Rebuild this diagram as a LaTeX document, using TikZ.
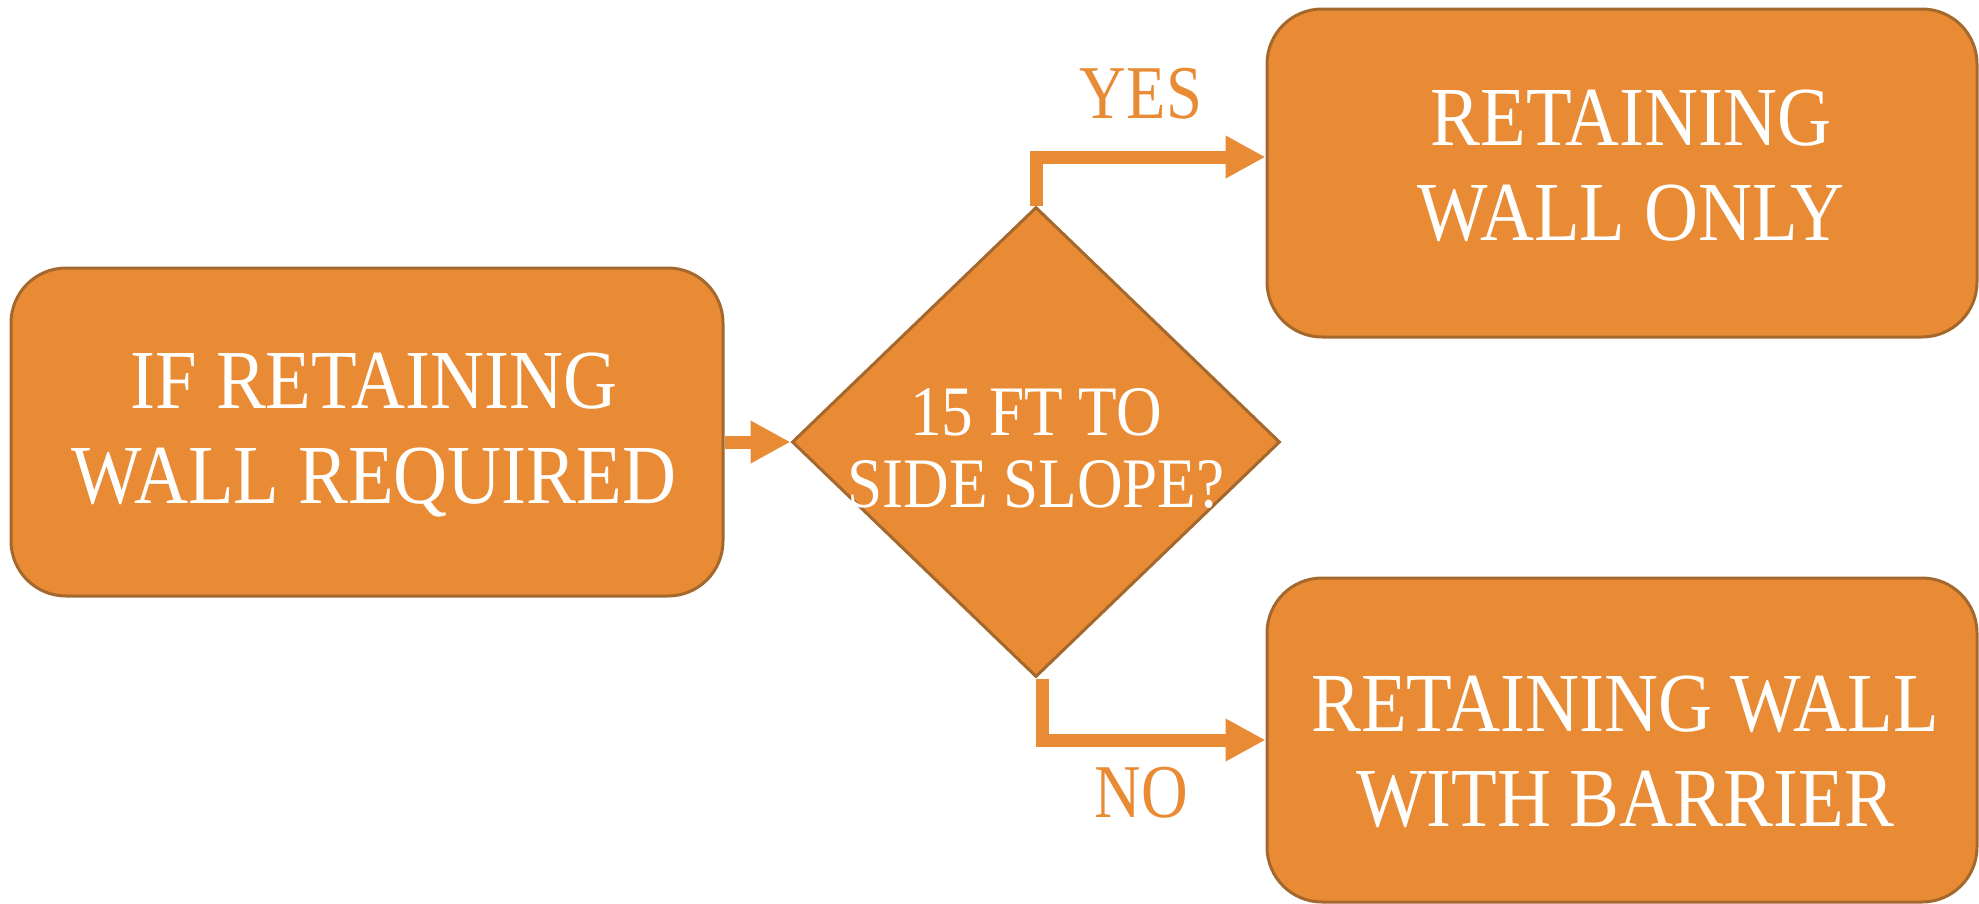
\documentclass[tikz,border=0pt]{standalone}
\usepackage{fontspec}
\setmainfont{Liberation Serif}[FakeStretch=0.89]
\newfontfamily\lblfont{Liberation Serif}[FakeStretch=0.85]
\usetikzlibrary{arrows.meta,shapes.geometric}
\definecolor{orfill}{HTML}{E88B34}
\definecolor{orline}{HTML}{A5682C}
\begin{document}
\begin{tikzpicture}[x=1pt,y=-1pt,
  box/.style={draw=orline,line width=3pt,fill=orfill,rounded corners=55pt,inner sep=0pt,rectangle},
  dia/.style={diamond,draw=orline,line width=3pt,fill=orfill,inner sep=0pt,minimum width=488pt,minimum height=470pt},
  boxtext/.style={text=white,align=center,inner sep=0pt,font=\fontsize{84}{95}\selectfont},
  diatext/.style={text=white,align=center,inner sep=0pt,font=\fontsize{71}{72}\selectfont},
  conn/.style={draw=orfill,line width=13pt,-{Triangle[length=40pt,width=40pt]}},
  lbl/.style={text=orfill,inner sep=0pt,font=\lblfont\fontsize{76}{76}\selectfont}]
\useasboundingbox (0,0) rectangle (1979,903);
\node[box,minimum width=712pt,minimum height=328pt] (L) at (367,432) {};
\node[box,minimum width=710pt,minimum height=328pt] (T) at (1622,173) {};
\node[box,minimum width=710pt,minimum height=324pt] (B) at (1622,740) {};
\node[dia] (D) at (1036,442) {};
\draw[conn] (L.east |- D.west) -- (D.west);
\draw[conn] (D.north) |- ([yshift=16pt]T.west);
\draw[conn] ([xshift=6pt]D.south) |- (B.west);
\node[boxtext] (Lt) at (374,435) {IF RETAINING\\WALL REQUIRED};
\node[boxtext] (Tt) at (1631,166) {RETAINING\\WALL ONLY};
\node[boxtext] (Bt) at (1625,752) {RETAINING WALL\\WITH BARRIER};
\node[diatext] (Dt) at (1036,448) {15 FT TO\\SIDE SLOPE?};
\node[lbl] (yes) at (1141,94) {YES};
\node[lbl] (no) at (1141,793) {NO};
\end{tikzpicture}
\end{document}
